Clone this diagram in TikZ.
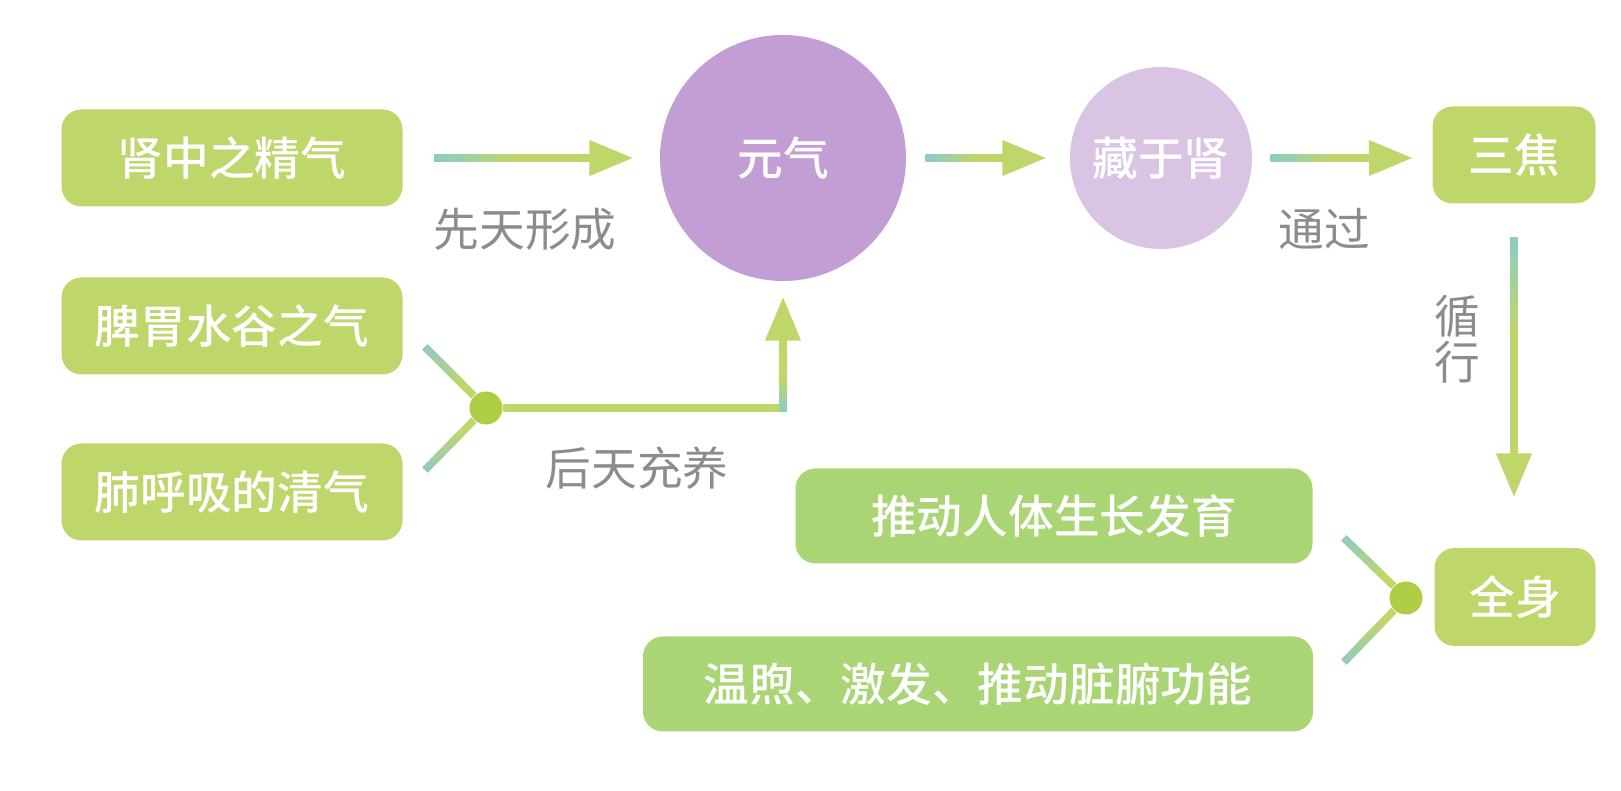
\documentclass[tikz,border=0pt]{standalone}
\usepackage{fontspec}
\setmainfont{Noto Sans CJK SC}[BoldFont={Noto Sans CJK SC Medium}]
\usetikzlibrary{arrows.meta,calc}
\definecolor{leaf}{HTML}{BFD66B}
\definecolor{leafsoft}{HTML}{A9D574}
\definecolor{tealc}{HTML}{8DCBC5}
\definecolor{dotgreen}{HTML}{AECD45}
\definecolor{plum}{HTML}{C29ED4}
\definecolor{lilac}{HTML}{D9C5E3}
\definecolor{labelgray}{HTML}{8C8C8C}

\begin{document}
\begin{tikzpicture}[
    >={Triangle[length=0.44cm,width=0.34cm]},
    every node/.style={font=\fontsize{13}{15}\selectfont},
    qibox/.style={
        rounded corners=0.2cm,
        minimum height=0.97cm,
        inner sep=0pt,
        fill=leaf,
        text=white,
        font=\bfseries\fontsize{13}{15}\selectfont,
    },
    actbox/.style={qibox, fill=leafsoft, minimum height=0.95cm},
    qiball/.style={
        circle,
        inner sep=0pt,
        fill=plum,
        text=white,
        font=\bfseries\fontsize{13}{15}\selectfont,
    },
    arr/.style={->,line width=0.075cm,color=leaf},
    link/.style={line width=0.075cm,color=leaf},
    junction/.style={circle,fill=dotgreen,minimum size=0.33cm,inner sep=0pt},
    note/.style={text=labelgray},
    tailfade/.style={left color=tealc,right color=leaf},
]
\useasboundingbox (0,0) rectangle (16.21,7.91);

% === Sources ===
\node[qibox,minimum width=3.41cm] (jing) at (2.32,6.33) {肾中之精气};
\node[qibox,minimum width=3.41cm] (gu) at (2.32,4.65) {脾胃水谷之气};
\node[qibox,minimum width=3.41cm] (qing) at (2.32,2.99) {肺呼吸的清气};

% === Yuan qi ===
\node[qiball,minimum size=2.46cm] (yuanqi) at (7.83,6.33) {元气};
\node[qiball,fill=lilac,minimum size=1.82cm] (cang) at (11.61,6.33) {藏于肾};
\node[qibox,minimum width=1.63cm] (sanjiao) at (15.14,6.36) {三焦};
\node[qibox,minimum width=1.61cm,minimum height=0.98cm] (quanshen) at (15.15,1.94) {全身};

% === Effects ===
\node[actbox,minimum width=5.17cm] (grow) at (10.54,2.75) {推动人体生长发育};
\node[actbox,minimum width=6.70cm] (warm) at (9.78,1.07) {温煦、激发、推动脏腑功能};

% === Labels ===
\node[note] (xiantian) at (5.25,5.62) {先天形成};
\node[note] (houtian) at (6.37,3.23) {后天充养};
\node[note] (tongguo) at (13.24,5.62) {通过};
\node[note,align=center,font=\fontsize{13}{13}\selectfont] (xunxing) at (14.57,4.52) {循\\行};

% === Main arrows ===
\draw[arr,shorten <=0.31cm,shorten >=0.26cm] (jing.east) -- (yuanqi.west);
\shade[tailfade] ($(jing.east)+(0.31,-0.0375)$) rectangle ($(jing.east)+(1.1,0.0375)$);

\draw[arr,shorten <=0.19cm,shorten >=0.23cm] (yuanqi.east) -- (cang.west);
\shade[tailfade] ($(yuanqi.east)+(0.19,-0.0375)$) rectangle ($(yuanqi.east)+(0.7,0.0375)$);

\draw[arr,shorten <=0.18cm,shorten >=0.19cm] (cang.east) -- (cang.east -| sanjiao.west);
\shade[tailfade] ($(cang.east)+(0.18,-0.0375)$) rectangle ($(cang.east)+(0.8,0.0375)$);

\draw[arr,shorten <=0.33cm,shorten >=0.5cm] (sanjiao.south) -- (sanjiao.south |- quanshen.north);
\shade[top color=tealc,bottom color=leaf] ($(sanjiao.south)+(-0.0375,-0.33)$) rectangle ($(sanjiao.south)+(0.0375,-1.3)$);

% === Left junction ===
\coordinate (guend) at (4.25,4.44);
\coordinate (qingend) at (4.25,3.21);
\node[junction] (hub) at (4.86,3.83) {};

\draw[link] (guend) -- (hub);
\draw[link] (qingend) -- (hub);
\shade[top color=tealc,bottom color=leaf]
    ($(guend)+(-.0265,-.0265)$) -- ($(guend)+(.0265,.0265)$)
    -- ($(guend)!0.6!(hub)+(.0265,.0265)$) -- ($(guend)!0.6!(hub)+(-.0265,-.0265)$) -- cycle;
\shade[top color=leaf,bottom color=tealc]
    ($(qingend)+(.0265,-.0265)$) -- ($(qingend)+(-.0265,.0265)$)
    -- ($(qingend)!0.6!(hub)+(-.0265,.0265)$) -- ($(qingend)!0.6!(hub)+(.0265,-.0265)$) -- cycle;

\draw[arr,shorten >=0.15cm] (hub) -| (yuanqi.south);
\shade[top color=leaf,bottom color=tealc] ($(hub -| yuanqi.south)+(-0.0375,-0.0375)$) rectangle ($(hub -| yuanqi.south)+(0.0375,0.3)$);

% === Right junction ===
\coordinate (growend) at (13.44,2.53);
\coordinate (warmend) at (13.44,1.29);
\node[junction] (hub2) at (14.06,1.93) {};

\draw[link] (growend) -- (hub2);
\draw[link] (warmend) -- (hub2);
\shade[top color=tealc,bottom color=leaf]
    ($(growend)+(-.0265,-.0265)$) -- ($(growend)+(.0265,.0265)$)
    -- ($(growend)!0.6!(hub2)+(.0265,.0265)$) -- ($(growend)!0.6!(hub2)+(-.0265,-.0265)$) -- cycle;
\shade[top color=leaf,bottom color=tealc]
    ($(warmend)+(.0265,-.0265)$) -- ($(warmend)+(-.0265,.0265)$)
    -- ($(warmend)!0.6!(hub2)+(-.0265,.0265)$) -- ($(warmend)!0.6!(hub2)+(.0265,-.0265)$) -- cycle;

\end{tikzpicture}
\end{document}
